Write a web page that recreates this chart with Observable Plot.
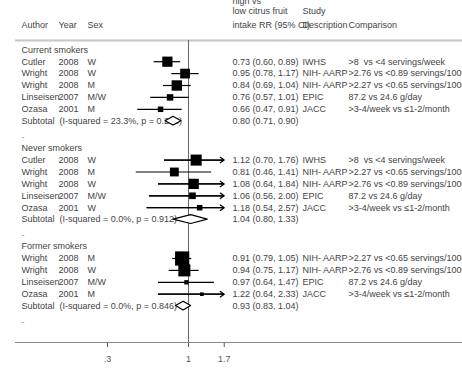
<!DOCTYPE html>
<html>
<head>
<meta charset="utf-8">
<script src="https://cdn.jsdelivr.net/npm/d3@7"></script>
<script src="https://cdn.jsdelivr.net/npm/@observablehq/plot@0.6"></script>
<style>
  html, body { margin: 0; padding: 0; background: #fff; overflow: hidden; }
</style>
</head>
<body>
<div id="chart"></div>
<script>
// ---- data ----
const groupNames = ["Current smokers", "Never smokers", "Former smokers"];
const groupOf   = [0,0,0,0,0, 1,1,1,1,1, 2,2,2,2];
const authors   = ["Cutler","Wright","Wright","Linseisen","Ozasa", "Cutler","Wright","Wright","Linseisen","Ozasa", "Wright","Wright","Linseisen","Ozasa"];
const years     = ["2008","2008","2008","2007","2001", "2008","2008","2008","2007","2001", "2008","2008","2007","2001"];
const sexes     = ["W","W","M","M/W","M", "W","M","W","M/W","W", "M","W","M/W","M"];
const rr        = [0.73,0.95,0.84,0.76,0.66, 1.12,0.81,1.08,1.06,1.18, 0.91,0.94,0.97,1.22];
const lower     = [0.60,0.78,0.69,0.57,0.47, 0.70,0.46,0.64,0.56,0.54, 0.79,0.75,0.64,0.64];
const upper     = [0.89,1.17,1.04,1.01,0.91, 1.76,1.41,1.84,2.00,2.57, 1.05,1.17,1.47,2.33];
const weights   = [27.5,25.0,28.5,11.0,8.0, 32.2,20.6,27.7,11.6,8.0, 53.3,38.2,5.0,3.5];
const studyDesc = ["IWHS","NIH- AARP","NIH- AARP","EPIC","JACC", "IWHS","NIH- AARP","NIH- AARP","EPIC","JACC", "NIH- AARP","NIH- AARP","EPIC","JACC"];
const comparisons = [
  ">8  vs <4 servings/week", ">2.76 vs <0.89 servings/1000 kcal", ">2.27 vs <0.65 servings/1000 kcal", "87.2 vs 24.6 g/day", ">3-4/week vs \u22641-2/month",
  ">8  vs <4 servings/week", ">2.27 vs <0.65 servings/1000 kcal", ">2.76 vs <0.89 servings/1000 kcal", "87.2 vs 24.6 g/day", ">3-4/week vs \u22641-2/month",
  ">2.27 vs <0.65 servings/1000 kcal", ">2.76 vs <0.89 servings/1000 kcal", "87.2 vs 24.6 g/day", ">3-4/week vs \u22641-2/month"
];
const subRR  = [0.80, 1.04, 0.93];
const subLo  = [0.71, 0.80, 0.83];
const subHi  = [0.90, 1.33, 1.04];
const subI2  = ["23.3%", "0.0%", "0.0%"];
const subP   = ["0.265", "0.912", "0.846"];
const xTicks = [0.3, 1, 1.7];
const xTickLabels = [".3", "1", "1.7"];
const clipMax = 1.7;

// header texts per column (top line first)
const hdrAuthor = ["Author"];
const hdrYear   = ["Year"];
const hdrSex    = ["Sex"];
const hdrRR     = ["high vs", "low citrus fruit", "intake RR (95% CI)"];
const hdrStudy  = ["Study", "Description"];
const hdrComp   = ["Comparison"];

// ---- layout of rows (row units) ----
const f2 = d3.format(".2f");
const studies = [], groupRows = [], subRows = [], dashRows = [];
let base = 0;
groupNames.forEach((g, gi) => {
  groupRows.push({label: g, row: base});
  const idx = groupOf.map((v, i) => v === gi ? i : -1).filter(i => i >= 0);
  idx.forEach((i, k) => {
    studies.push({
      author: authors[i], year: years[i], sex: sexes[i],
      rr: rr[i], lo: lower[i], hi: upper[i], w: weights[i],
      study: studyDesc[i], comp: comparisons[i],
      txt: `${f2(rr[i])} (${f2(lower[i])}, ${f2(upper[i])})`,
      row: base + k + 1
    });
  });
  const sr = base + idx.length + 1;
  subRows.push({
    label: `Subtotal  (I-squared = ${subI2[gi]}, p = ${subP[gi]})`,
    txt: `${f2(subRR[gi])} (${f2(subLo[gi])}, ${f2(subHi[gi])})`,
    rr: subRR[gi], lo: subLo[gi], hi: subHi[gi], row: sr, g: gi
  });
  dashRows.push({row: sr + 1.33});
  base = base + idx.length + 3.27;
});
const axisRow = dashRows[dashRows.length - 1].row + 1.73;
const topRow = -0.78;

// header lines stacked upward from the header baseline row
const hdrRows = [-2.04, -3.22, -4.1];
const hdr = (lines) => lines.map((t, i) => ({t, row: hdrRows[lines.length - 1 - i]}));

const h = 0.37;
const diamonds = subRows.flatMap(s => [
  {x: s.lo, y1: s.row, y2: s.row, g: s.g},
  {x: s.rr, y1: s.row - h, y2: s.row + h, g: s.g},
  {x: s.hi, y1: s.row, y2: s.row, g: s.g}
]);

const txtCol = "#444";
const textOpts = (extra) => Object.assign({frameAnchor: "left", textAnchor: "start", fontSize: 9, fill: txtCol}, extra);

const clipped = studies.filter(d => d.hi > clipMax);

const colAuthor = 6, colYear = 43, colSex = 72, colRR = 217, colStudy = 287, colComp = 333;

const chart = Plot.plot({
  width: 462,
  height: 372,
  marginLeft: 15,
  marginRight: 0,
  marginTop: 0,
  marginBottom: 30,
  style: {fontFamily: "'Liberation Sans', Arial, sans-serif", fontSize: "9px", color: "#555", background: "#fff"},
  x: {type: "log", domain: [0.0764, 58.7], ticks: xTicks, tickFormat: d => xTickLabels[xTicks.indexOf(d)], tickSize: 5, tickPadding: 8, label: null},
  y: {domain: [0, axisRow], range: [49.3, 342], axis: null},
  r: {type: "sqrt", domain: [0, 100], range: [0, 11]},
  marks: [
    Plot.ruleY([topRow], {stroke: "#c8c8c8", strokeWidth: 2}),
    Plot.ruleY([axisRow], {stroke: "#888", strokeWidth: 1}),
    Plot.ruleX([1], {y1: topRow, y2: axisRow, stroke: "#666", strokeWidth: 1}),
    // header
    Plot.text(hdr(hdrAuthor), textOpts({y: "row", text: "t", dx: colAuthor})),
    Plot.text(hdr(hdrYear), textOpts({y: "row", text: "t", dx: colYear})),
    Plot.text(hdr(hdrSex), textOpts({y: "row", text: "t", dx: colSex})),
    Plot.text(hdr(hdrRR), textOpts({y: "row", text: "t", dx: colRR})),
    Plot.text(hdr(hdrStudy), textOpts({y: "row", text: "t", dx: colStudy})),
    Plot.text(hdr(hdrComp), textOpts({y: "row", text: "t", dx: colComp})),
    // body text columns
    Plot.text(groupRows, textOpts({y: "row", text: "label", dx: colAuthor})),
    Plot.text(studies, textOpts({y: "row", text: "author", dx: colAuthor})),
    Plot.text(studies, textOpts({y: "row", text: "year", dx: colYear})),
    Plot.text(studies, textOpts({y: "row", text: "sex", dx: colSex})),
    Plot.text(studies, textOpts({y: "row", text: "txt", dx: colRR})),
    Plot.text(studies, textOpts({y: "row", text: "study", dx: colStudy})),
    Plot.text(studies, textOpts({y: "row", text: "comp", dx: colComp})),
    Plot.text(subRows, textOpts({y: "row", text: "label", dx: colAuthor})),
    Plot.text(subRows, textOpts({y: "row", text: "txt", dx: colRR})),
    Plot.text(dashRows, textOpts({y: "row", text: () => "-", dx: colAuthor, fill: "#999"})),
    // CIs
    Plot.ruleY(studies, {y: "row", x1: "lo", x2: d => Math.min(d.hi, clipMax), stroke: "black", strokeWidth: 1.2}),
    Plot.arrow(clipped, {x1: "lo", x2: () => clipMax, y1: "row", y2: "row", stroke: "black", strokeWidth: 1.2, headLength: 6, headAngle: 70}),
    Plot.dot(studies, {x: "rr", y: "row", r: "w", symbol: "square", fill: "black", stroke: null}),
    Plot.area(diamonds, {x1: "x", y1: "y1", y2: "y2", z: "g", fill: "white", stroke: "black", strokeWidth: 1.2})
  ]
});
document.getElementById("chart").appendChild(chart);
</script>
</body>
</html>
